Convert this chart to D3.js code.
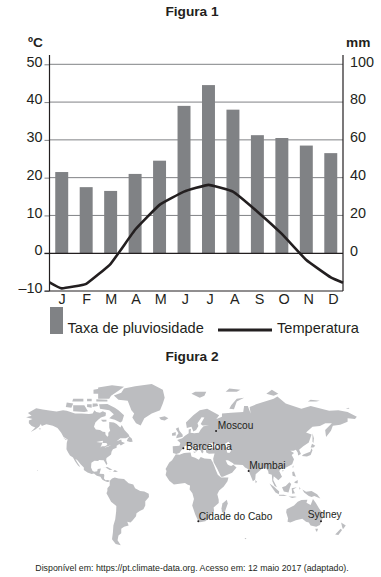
<!DOCTYPE html>
<html>
<head>
<meta charset="utf-8">
<script src="https://cdn.jsdelivr.net/npm/d3@7"></script>
<style>
  html, body { margin: 0; padding: 0; background: #fff; }
  svg { display: block; }
  text { font-family: "Liberation Sans", Arial, sans-serif; fill: #231f20; }
</style>
</head>
<body>
<div id="chart"></div>
<script>
// Chart data
const months = ["J", "F", "M", "A", "M", "J", "J", "A", "S", "O", "N", "D"];
const rainfall = [43, 35, 33, 42, 49, 78, 89, 76, 62.5, 61, 57, 53];
const temperature = [-9.3, -8.1, -2.8, 6.2, 12.8, 16.3, 18.1, 16.3, 11, 5.1, -1.8, -6.4];
const tempAtLeftAxis = -7.7;
const tempAtRightAxis = -7.8;
const tempTicks = [-10, 0, 10, 20, 30, 40, 50];
const rainTicks = [0, 20, 40, 60, 80, 100];

// Map data, [lon, lat]
const cityNames = ["Moscou", "Barcelona", "Mumbai", "Cidade do Cabo", "Sydney"];
const cityLon = [37.6, 2.2, 72.9, 18.4, 151.2];
const cityLat = [55.75, 41.4, 19, -33.9, -33.9];

const land = [
  // North + Central America
  [[-168,65.6],[-162,66.6],[-166,68.3],[-157,71.2],[-150,70.5],[-141,69.7],[-135,69.3],[-128,70],[-124,69.8],[-115,68],[-108,68],[-100,67.8],[-96,68],[-94,70],[-92,69],[-88,68.5],[-85,69.5],[-81.5,68.5],[-82,66.5],[-87,65.5],[-90,64],[-93,62],[-94.5,59],[-92.5,57],[-88,56.5],[-85,55.3],[-82.3,55],[-82,53],[-80,51.3],[-79,52],[-79,54.5],[-77,56],[-78,58.5],[-78,62.4],[-73,62],[-70,61],[-66,58.5],[-64.5,60.3],[-61.5,56.5],[-57,53],[-56,51.5],[-60,50],[-66,50],[-70,47.5],[-65,49],[-64.5,47],[-61,46],[-65.5,43.7],[-67,45],[-70,43.5],[-70,41.7],[-74,40.5],[-75.5,38],[-76,35.5],[-78,34],[-81,32],[-81.3,30],[-80,26.5],[-81,25.2],[-82.7,28],[-84,30],[-89,30.2],[-90,29.2],[-94,29.5],[-97.3,27.5],[-97.7,22.5],[-96,19],[-94,18.2],[-91,18.7],[-90.5,21],[-87,21.5],[-88,18],[-88.5,16],[-84,15.8],[-83.3,14.8],[-83.7,11],[-82,9],[-79.5,9.5],[-77.3,8.6],[-78.3,7.5],[-80,7.3],[-83,8.3],[-85.7,10],[-87.5,13],[-91.5,14],[-94.5,16.2],[-97,15.8],[-101.5,17.5],[-105.5,20],[-105.5,22.5],[-109,26],[-112.5,30],[-114.7,31.5],[-113,28.5],[-110,24],[-110,23],[-112,25],[-115,29],[-117.2,32.5],[-120.5,34.5],[-122.5,37.5],[-124.3,40.5],[-124,46],[-123,49],[-127.5,51],[-130,54.5],[-134,58],[-139,59.8],[-146,60.8],[-151,59.5],[-152,61],[-154,59],[-158,57],[-163,55],[-158,58.5],[-162,59.5],[-165,61.5],[-165,63.5],[-161,64.5]],
  // Arctic Canada
  [[-80,73.7],[-72,71.5],[-68,70],[-62,67],[-64,63],[-66,62],[-72,64],[-78,65],[-73,67.5],[-78,70],[-88,71],[-89,73.5]],
  [[-117,69.5],[-105,69],[-101,69.5],[-105,73],[-117,73]],
  [[-90,76.5],[-78,76.5],[-76,78],[-68,80.5],[-62,82.3],[-75,83],[-90,82],[-90,80]],
  [[-125,72],[-119,71.5],[-117,74],[-124,74.5]],
  [[-92,75],[-80,75],[-80,76],[-92,76.3]],
  [[-96,72],[-90,72.5],[-91,74],[-96,74]],
  [[-102,72],[-97,71.5],[-97,73.5],[-102,73.5]],
  [[-118,75],[-106,75],[-106,76.5],[-117,76.5]],
  [[-102,75.2],[-97,75.2],[-97,76.5],[-102,76.5]],
  [[-95,79],[-86,79],[-88,81.5],[-95,81]],
  [[-87,64],[-81,64],[-81,62.8],[-85,62.5]],
  [[-59,47.7],[-55.5,46.8],[-52.7,47],[-53.5,49.5],[-56,51.5],[-58,49.5]],
  [[-128,50.7],[-123.5,48.5],[-125,48.6]],
  [[-154.5,57.3],[-152.5,58],[-152.5,57]],
  [[-156,20],[-155,19.8],[-155.5,19]],
  // Greenland, Iceland
  [[-73,78.2],[-68,76],[-58,75.5],[-54,70],[-51,68],[-53,65.5],[-49,61.5],[-44,60],[-40,65],[-32,68],[-23,70],[-20,74],[-18,77],[-20,81],[-32,83.5],[-50,82.5],[-62,81.5],[-65,79.5]],
  [[-24,65.5],[-18,66.3],[-14,65],[-18,63.5],[-22,64]],
  // Caribbean
  [[-85,22],[-80,23.2],[-74.5,20.2],[-77.5,19.9],[-82,22.5]],
  [[-74,18.5],[-72,20],[-68.5,18.5],[-71.5,17.8]],
  [[-78.3,18.4],[-76.3,18.2],[-77,17.8]],
  // South America
  [[-77.3,8.6],[-75,11],[-72,12],[-68,11],[-62,10.5],[-60,8.5],[-57,6],[-52,4.5],[-50,0.5],[-44.5,-2.5],[-40,-3],[-35.2,-5.5],[-35,-9],[-39,-13.5],[-39,-18],[-41,-22],[-45,-23.8],[-48.5,-26],[-49,-29],[-53,-33.5],[-55,-35],[-58.5,-34.3],[-57,-38],[-62,-39],[-65,-41],[-65,-45],[-68,-47],[-69,-51],[-65.5,-55],[-71,-54],[-75,-50],[-74,-44],[-73.5,-38],[-71.5,-32],[-70.5,-24],[-70.3,-18.5],[-76,-14],[-79.5,-7.5],[-81,-5],[-80,-2.5],[-80,0.5],[-77.5,3.5],[-77.5,7]],
  // Africa
  [[-6,35.8],[-2,35.2],[3,36.8],[10,37.3],[11,33.5],[15,32.3],[19,30.3],[21,33],[25,31.7],[32,31.2],[34,28],[35.7,24],[37.3,20],[39.5,15],[43,12],[51,12],[50,8],[46,2.5],[41,-2],[39,-6],[40.5,-12],[40.5,-15.5],[35,-20],[35.5,-24],[32.8,-26],[31,-30],[26,-34],[20,-34.8],[18.4,-34],[15,-27],[11.8,-18],[13.7,-11],[12,-5],[9,-1],[9.5,3.5],[7,4.3],[4,6.3],[-4,5.2],[-8,4.5],[-13,8.5],[-17,14.7],[-16,19],[-17,21],[-13,27.7],[-10,30]],
  [[49.3,-12],[50.3,-16],[47,-25],[44,-25],[43.5,-21],[44.5,-16]],
  // Eurasia
  [[-9,37],[-9.3,43],[-2,43.5],[-1,46],[-4.5,48.5],[1,50],[4,52],[8,54],[8,57],[10.5,57.5],[10,54.5],[14,54],[19,54.5],[21,57],[24,59.3],[30,60],[23,60],[21,61],[25,65.5],[22,65.7],[17.5,61.5],[18.5,59.5],[16,56.5],[13,55.5],[11,59],[6,58],[5,62],[13,67],[20,70],[28,71],[41,67],[38,64.5],[44,66],[44,68],[54,68.5],[67,69],[68,72.5],[72,72.5],[75,68],[74,72],[81,73.5],[87,74.5],[100,76.5],[104,77.7],[113,74],[130,71],[140,72.5],[160,69.7],[170,70],[180,69],[190,66],[188,64.5],[180,65],[180,62.5],[172,60.5],[164,59.8],[162,56],[156.7,51],[155.7,56.5],[163,61.5],[156,61.5],[150,59.5],[142,59],[135,54.7],[141,53],[138,46.5],[132,43],[127.5,40],[129.5,36],[126.5,34.5],[126,37.5],[124,40],[121.5,39],[118,39],[122,37],[119.5,35],[122,31],[120,26],[113.5,22.5],[108,21.5],[106,19],[109,13],[105,9],[103,11],[100,13.5],[99.5,9.5],[103.5,1.5],[101,3],[98.5,8],[98,15],[94.5,16],[94,19],[91,22.5],[87,21],[80.5,15.5],[80,10],[77.5,8],[73,19],[72,21],[69,22.5],[66.5,25.2],[57,25.7],[56,27],[50.5,30],[48,30],[50,26],[51.5,25],[54,24],[56.3,25.5],[59.8,22.5],[55,17],[45,12.8],[43,13],[39,21],[35,28],[34.5,31.5],[36,36.5],[30,36.3],[27,37.5],[26.5,40],[29,41],[35,42],[41.5,41.5],[37,45],[33,45.8],[30,45.5],[28,42],[26,40.8],[23.5,40],[24,37.8],[22.5,36.5],[19.5,41.5],[13,45.5],[16,41.7],[18.5,40],[16,38],[12,42],[8.5,44.4],[3.5,43.3],[3,41.5],[0,39.5],[-2,36.8],[-5.5,36]],
  // Europe + Arctic islands
  [[-5.5,50],[1.5,51.2],[1.5,52.8],[-2,56],[-3,58.6],[-6,57.5],[-3,54],[-5,52]],
  [[-10,52],[-6,52.2],[-6,55],[-10,54]],
  [[12.5,38],[15.5,38.2],[15,36.8]],
  [[8.3,41],[9.6,41],[9.5,39],[8.5,39]],
  [[11,79],[20,77],[25,78],[27,80],[15,80]],
  [[48,80],[60,80],[64,81],[52,81.5]],
  [[52,71],[57,70.7],[60,75],[68,77],[60,76.5],[54,73]],
  [[92,79],[100,78],[105,79],[98,81]],
  [[137,75],[146,75],[150,75.5],[140,76]],
  [[178,71],[182,71],[181,71.5]],
  // East Asia islands
  [[142,54],[143.5,50],[143,46],[142,47],[142,52]],
  [[130.5,34],[136,33.5],[140,35],[142,39.5],[141,41.3],[139.5,38],[136,37],[132,35.5]],
  [[140,42],[141.5,45.3],[145,43.5],[143,42]],
  [[120.2,23],[121.7,25],[121,22]],
  [[108.8,19.3],[111,20],[110,18.3]],
  [[120,18],[122,18.5],[124,13],[120.5,14]],
  [[122,7],[126,9.5],[126,6],[124,6]],
  [[80,9.5],[82,7.5],[80.5,6]],
  [[109,1.5],[113,3],[117,7],[119,5],[117.5,1],[116,-4],[111,-3]],
  [[95.5,5.5],[100,2.5],[106,-3],[105.5,-6],[102,-4],[98,1.5]],
  [[105.5,-6.5],[111,-6.5],[114.5,-8],[106,-7.7]],
  [[119.5,0.5],[125,1.5],[121,-1],[123,-5],[120,-5.5]],
  [[116,-8.5],[123,-8.3],[125,-9],[120,-10]],
  [[127.5,2],[129,0],[128,-1]],
  [[131,-1],[135,-3.3],[141,-2.5],[147,-6],[150.5,-10.5],[144,-8],[141,-9],[138,-8],[133,-4]],
  // Australia, New Zealand
  [[114,-22],[122,-18],[126,-14],[130,-12.3],[136.5,-12],[135.5,-15],[140,-17.5],[142.5,-11],[145.5,-15],[149,-21],[153,-26],[153,-31],[150,-37.5],[146,-39],[140,-38],[138,-35],[135,-34.5],[131,-31.5],[124,-33],[118,-35],[115,-34.3],[115.5,-31],[113.5,-25]],
  [[145,-41],[148,-41],[147,-43.5],[146,-43.5]],
  [[173,-35],[178,-38],[175,-41.5],[174,-39]],
  [[172.5,-41],[174,-42],[170,-46.5],[166.5,-46]],
  [[68.5,-49],[70.5,-49],[69.5,-50]]
];
const lakes = [
  [[47,45],[51,47],[53,45],[51,42],[54,39],[52,37],[49.5,37.5],[49,41]],
  [[-92,46.8],[-85,48],[-84.7,46.5],[-88,46.5]],
  [[-87.5,42],[-85.5,46],[-81,46],[-80,44.5],[-82.5,43],[-86,43]],
  [[-83,41.8],[-79,42.8],[-76,44],[-79,43.3],[-82,42.5]]
];

const width = 381;
const height = 577;

const svg = d3.select("#chart")
  .append("svg")
    .attr("width", width)
    .attr("height", height);

// Figura 1
const plot = { left: 49.5, right: 343, top: 55, zero: 253.3, bottom: 291 };

const yTemp = d3.scaleLinear().domain([-10, 50]).range([plot.bottom, 64.3]);
const yRain = d3.scaleLinear().domain([0, 100]).range([plot.zero, 64.3]);
const x = d3.scaleBand().domain(d3.range(12)).range([plot.left, plot.right]);
const xLabel = d3.scalePoint().domain(d3.range(12)).range([61.5, 333]);
const barWidth = x.bandwidth() * 0.53;

svg.append("text")
  .attr("x", 192).attr("y", 16)
  .attr("text-anchor", "middle")
  .style("font-size", "13.7px").style("font-weight", "bold")
  .text("Figura 1");

// gridlines + left labels
const leftAxis = svg.append("g")
  .attr("transform", `translate(${plot.left},0)`)
  .call(d3.axisLeft(yTemp).tickValues(tempTicks).tickSize(5).tickPadding(2)
    .tickFormat(d => d < 0 ? "\u2013" + Math.abs(d) : d));
leftAxis.select(".domain").remove();
leftAxis.selectAll(".tick line").attr("stroke", "#808285");
leftAxis.selectAll(".tick text")
  .attr("dy", "0.12em")
  .style("font-size", "14.4px");

svg.append("g").selectAll("line")
  .data(tempTicks.filter(d => d !== 0 && d !== -10))
  .join("line")
    .attr("x1", plot.left).attr("x2", plot.right)
    .attr("y1", d => yTemp(d)).attr("y2", d => yTemp(d))
    .attr("stroke", "#808285").attr("stroke-width", 1);

// bars
svg.append("g").selectAll("rect")
  .data(rainfall)
  .join("rect")
    .attr("x", (d, i) => x(i) + (x.bandwidth() - barWidth) / 2)
    .attr("y", d => yRain(d))
    .attr("width", barWidth)
    .attr("height", d => yRain(0) - yRain(d))
    .attr("fill", "#808285");

// zero line, frame
svg.append("line")
  .attr("x1", plot.left - 5).attr("x2", plot.right)
  .attr("y1", plot.zero).attr("y2", plot.zero)
  .attr("stroke", "#231f20").attr("stroke-width", 1.3);
svg.append("line")
  .attr("x1", plot.left - 5).attr("x2", plot.right)
  .attr("y1", plot.bottom).attr("y2", plot.bottom)
  .attr("stroke", "#231f20").attr("stroke-width", 1);
[plot.left, plot.right].forEach(px => {
  svg.append("line")
    .attr("x1", px).attr("x2", px)
    .attr("y1", plot.top).attr("y2", plot.bottom)
    .attr("stroke", "#231f20").attr("stroke-width", 1.2);
});

// right labels
const rightAxis = svg.append("g")
  .attr("transform", `translate(${plot.right},0)`)
  .call(d3.axisRight(yRain).tickValues(rainTicks).tickSize(0).tickPadding(7));
rightAxis.select(".domain").remove();
rightAxis.selectAll(".tick text")
  .attr("dy", "0.12em")
  .style("font-size", "14.4px");

// month labels
const monthAxis = svg.append("g")
  .attr("transform", `translate(0,${plot.bottom})`)
  .call(d3.axisBottom(xLabel).tickSize(0).tickPadding(3).tickFormat(i => months[i]));
monthAxis.select(".domain").remove();
monthAxis.selectAll(".tick text").style("font-size", "14.4px");

// unit labels
svg.append("text")
  .attr("x", 43).attr("y", 47)
  .attr("text-anchor", "end")
  .style("font-size", "13.7px").style("font-weight", "bold")
  .text("\u00baC");
svg.append("text")
  .attr("x", 346).attr("y", 47)
  .style("font-size", "13.7px").style("font-weight", "bold")
  .text("mm");

// temperature line, runs from axis to axis
const tempPoints = [[plot.left, tempAtLeftAxis]]
  .concat(temperature.map((d, i) => [x(i) + x.bandwidth() / 2, d]))
  .concat([[plot.right, tempAtRightAxis]]);
const line = d3.line()
  .x(d => d[0])
  .y(d => yTemp(d[1]))
  .curve(d3.curveCardinal.tension(0.7));
svg.append("path")
  .datum(tempPoints)
  .attr("fill", "none")
  .attr("stroke", "#231f20")
  .attr("stroke-width", 2.6)
  .attr("d", line);

// legend
svg.append("rect")
  .attr("x", 50).attr("y", 307).attr("width", 13).attr("height", 27)
  .attr("fill", "#808285");
svg.append("text")
  .attr("x", 67.5).attr("y", 333)
  .style("font-size", "14.6px")
  .text("Taxa de pluviosidade");
svg.append("line")
  .attr("x1", 218).attr("x2", 272).attr("y1", 330).attr("y2", 330)
  .attr("stroke", "#231f20").attr("stroke-width", 3);
svg.append("text")
  .attr("x", 277).attr("y", 333)
  .style("font-size", "14.6px")
  .text("Temperatura");

// Figura 2
svg.append("text")
  .attr("x", 192).attr("y", 361)
  .attr("text-anchor", "middle")
  .style("font-size", "13.7px").style("font-weight", "bold")
  .text("Figura 2");

// Miller projection, lon runs past 180 for Chukotka so no wrapping
const miller = lat => 1.25 * Math.log(Math.tan(Math.PI / 4 + 0.4 * lat * Math.PI / 180));
const mapX = d3.scaleLinear().domain([0, 180]).range([181.3, 347.6]);
const mapY = d3.scaleLinear().domain([0, 1]).range([488.7, 435.8]);
const outline = d3.line()
  .x(d => mapX(d[0]))
  .y(d => mapY(miller(d[1])));

svg.append("g").selectAll("path")
  .data(land)
  .join("path")
    .attr("d", d => outline(d) + "Z")
    .attr("fill", "#bcbdc0");
svg.append("g").selectAll("path")
  .data(lakes)
  .join("path")
    .attr("d", d => outline(d) + "Z")
    .attr("fill", "#fff");

// cities
const labelDx = [1.7, 2.6, 0.7, 0.4, -13.3];
const labelDy = [-2, 2, -2, -1.3, -3.6];
const cities = svg.append("g").selectAll("g")
  .data(cityNames)
  .join("g")
    .attr("transform", (d, i) => `translate(${mapX(cityLon[i])},${mapY(miller(cityLat[i]))})`);
cities.append("circle")
  .attr("r", 1)
  .attr("fill", "#231f20");
cities.append("text")
  .attr("x", (d, i) => labelDx[i])
  .attr("y", (d, i) => labelDy[i])
  .style("font-size", "10.2px")
  .text(d => d);

// source
svg.append("text")
  .attr("x", 192).attr("y", 570.5)
  .attr("text-anchor", "middle")
  .style("font-size", "8.8px")
  .text("Dispon\u00edvel em: https://pt.climate-data.org. Acesso em: 12 maio 2017 (adaptado).");
</script>
</body>
</html>
